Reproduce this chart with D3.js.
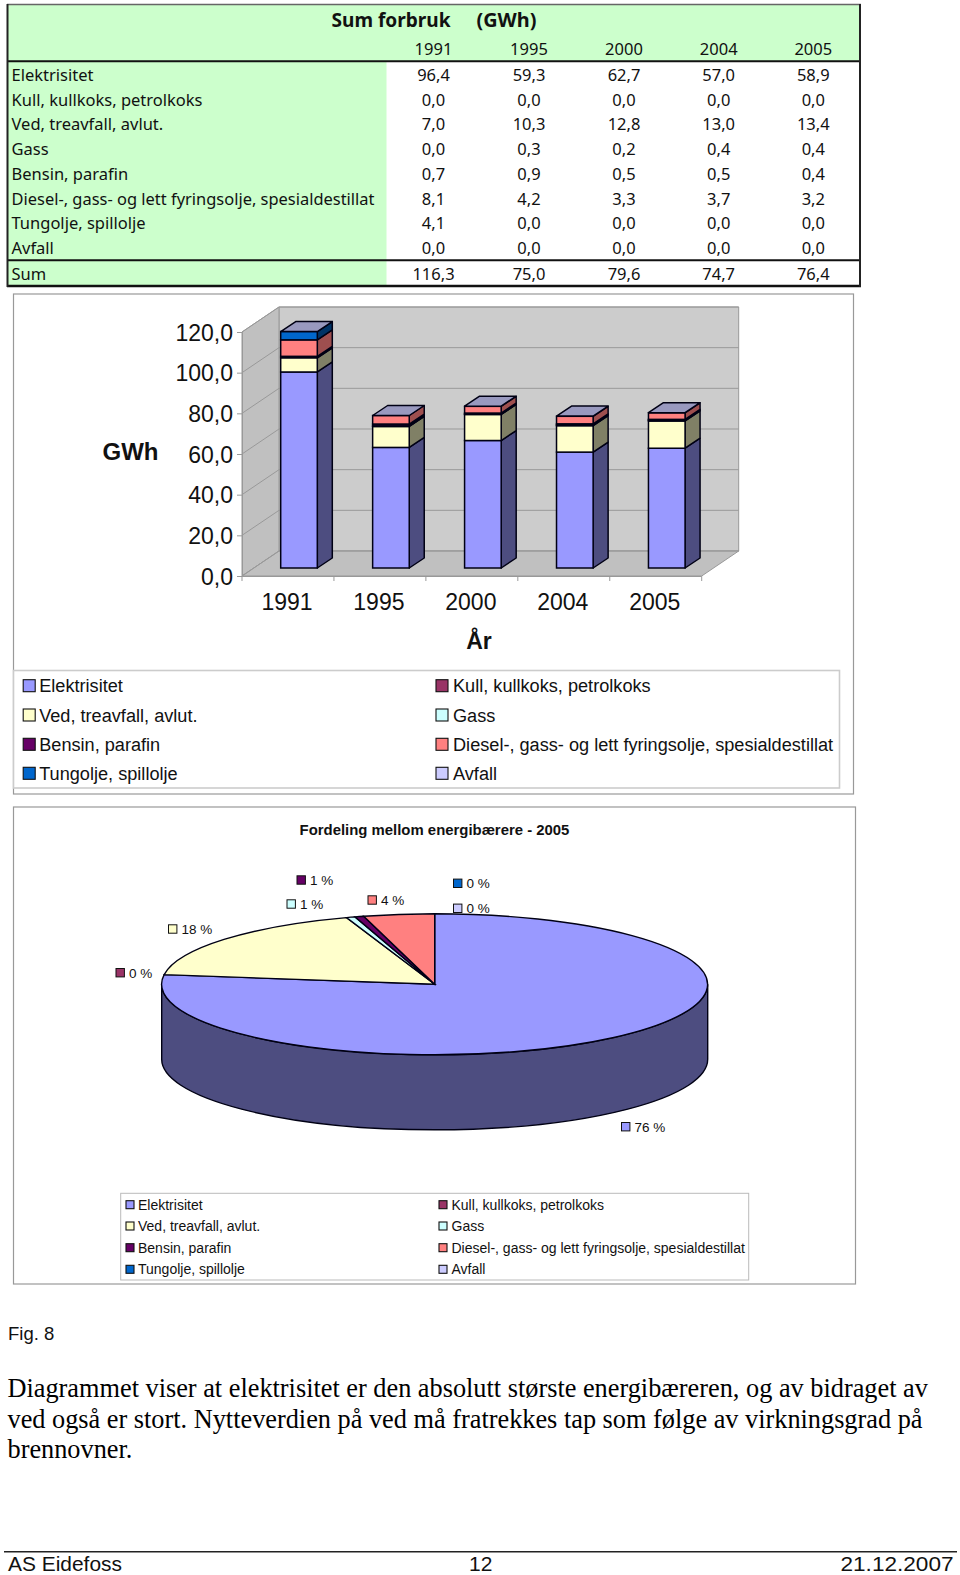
<!DOCTYPE html>
<html><head><meta charset="utf-8">
<script src="https://cdn.jsdelivr.net/npm/d3@7"></script>
<style>html,body{margin:0;padding:0;background:#fff}svg{display:block}</style>
</head><body><svg id="c" width="960" height="1575"></svg>
<script>
const years = ["1991","1995","2000","2004","2005"];
const seriesNames = ["Elektrisitet","Kull, kullkoks, petrolkoks","Ved, treavfall, avlut.","Gass","Bensin, parafin","Diesel-, gass- og lett fyringsolje, spesialdestillat","Tungolje, spillolje","Avfall"];
const elektrisitet = [96.4,59.3,62.7,57.0,58.9];
const kull = [0,0,0,0,0];
const ved = [7.0,10.3,12.8,13.0,13.4];
const gass = [0,0.3,0.2,0.4,0.4];
const bensin = [0.7,0.9,0.5,0.5,0.4];
const diesel = [8.1,4.2,3.3,3.7,3.2];
const tungolje = [4.1,0,0,0,0];
const avfall = [0,0,0,0,0];
const sums = [116.3,75.0,79.6,74.7,76.4];
const colors = ["#9999ff","#993366","#ffffcc","#ccffff","#660066","#ff8080","#0066cc","#ccccff"];
const pieLabels = ["76 %","0 %","18 %","1 %","1 %","4 %","0 %","0 %"];
const axisTicks = [0,20,40,60,80,100,120];
const bodyLines = ["Diagrammet viser at elektrisitet er den absolutt største energibæreren, og av bidraget av","ved også er stort. Nytteverdien på ved må fratrekkes tap som følge av virkningsgrad på","brennovner."];
const allSeries = [elektrisitet,kull,ved,gass,bensin,diesel,tungolje,avfall];

const svg = d3.select("#c");
const SANS = "'Liberation Sans',Arial,sans-serif", SERIF = "'Liberation Serif',serif", HAND = "'Noto Sans',sans-serif";
const comma = v => d3.format(".1f")(v).replace(".",",");
function txt(g,x,y,s,size,o={}){
  const t=g.append("text").attr("x",x).attr("y",y).text(s)
    .attr("font-family",o.font||SANS).attr("font-size",size).attr("fill",o.fill||"#111")
    .attr("text-anchor",o.anchor||"start");
  if(o.bold)t.attr("font-weight","bold");
  if(o.len){t.attr("textLength",o.len).attr("lengthAdjust","spacingAndGlyphs");}
  return t;
}

/* ---------- table ---------- */
const tb = svg.append("g");
const rowY = [75,99.7,124.4,149,174,198.7,223.4,248];
const colX = [433.5,529,624,718.7,813.3];
tb.append("rect").attr("x",8).attr("y",5).attr("width",852).attr("height",56).attr("fill","#ccffcc");
tb.append("rect").attr("x",8).attr("y",61).attr("width",378.5).attr("height",225).attr("fill","#ccffcc");
const rules = [[4.5,1.5],[61.3,2],[260.3,2],[286,2.4]];
tb.selectAll("line.h").data(rules).join("line").attr("class","h").attr("x1",7).attr("x2",861)
  .attr("y1",d=>d[0]).attr("y2",d=>d[0]).attr("stroke",(d,i)=>i?"#111":"#666").attr("stroke-width",d=>d[1]);
tb.append("line").attr("x1",7.5).attr("x2",7.5).attr("y1",4).attr("y2",287).attr("stroke","#222").attr("stroke-width",2);
tb.append("line").attr("x1",860).attr("x2",860).attr("y1",4).attr("y2",287).attr("stroke","#222").attr("stroke-width",2);
txt(tb,331.5,27,"Sum forbruk",20,{font:HAND,bold:true,len:119});
txt(tb,476.5,27,"(GWh)",20,{font:HAND,bold:true,len:60});
years.forEach((y,i)=>txt(tb,colX[i],55,y,16.5,{font:HAND,anchor:"middle"}));
seriesNames.forEach((n,r)=>{
  txt(tb,11.5,rowY[r]+6,n,16.5,{font:HAND,len:r===5?363:null});
  allSeries[r].forEach((v,i)=>txt(tb,colX[i],rowY[r]+6,comma(v),16.5,{font:HAND,anchor:"middle"}));
});
txt(tb,11.5,280,"Sum",16.5,{font:HAND});
sums.forEach((v,i)=>txt(tb,colX[i],280,comma(v),16.5,{font:HAND,anchor:"middle"}));

/* ---------- frames ---------- */
svg.append("rect").attr("x",13.5).attr("y",294).attr("width",840).attr("height",500).attr("fill","#fff").attr("stroke","#999").attr("stroke-width",1.2);
svg.append("rect").attr("x",13.5).attr("y",807).attr("width",842).attr("height",477).attr("fill","#fff").attr("stroke","#999").attr("stroke-width",1.2);

/* ---------- 3D stacked bars ---------- */
const bc = svg.append("g");
const y = d3.scaleLinear().domain([0,120]).range([576,332]);
const x = d3.scaleBand().domain(years).range([242,701.7]);
const wallDx=37, wallDy=-25, barDx=15, barDy=-10, barW=36.6, barOff=38.7, barLift=8;
const pts = a => a.map(p=>p.join(",")).join(" ");
// walls
bc.append("polygon").attr("points",pts([[242+wallDx,y(120)+wallDy],[701.7+wallDx,y(120)+wallDy],[701.7+wallDx,y(0)+wallDy],[242+wallDx,y(0)+wallDy]])).attr("fill","#cccccc").attr("stroke","#999");
bc.append("polygon").attr("points",pts([[242,y(120)],[242+wallDx,y(120)+wallDy],[242+wallDx,y(0)+wallDy],[242,y(0)]])).attr("fill","#c0c0c0").attr("stroke","#999");
bc.append("polygon").attr("points",pts([[242,y(0)],[242+wallDx,y(0)+wallDy],[701.7+wallDx,y(0)+wallDy],[701.7,y(0)]])).attr("fill","#c0c0c0").attr("stroke","#999");
axisTicks.forEach(t=>{
  bc.append("polyline").attr("points",pts([[242,y(t)],[242+wallDx,y(t)+wallDy],[701.7+wallDx,y(t)+wallDy]])).attr("fill","none").attr("stroke","#999").attr("stroke-width",1);
});
// axes
const ay = bc.append("g").attr("transform","translate(242,0)").call(d3.axisLeft(y).tickValues(axisTicks).tickFormat(comma).tickSize(5).tickPadding(4));
const ax = bc.append("g").attr("transform","translate(-1,576)").call(d3.axisBottom(x).tickValues(years).tickSize(0).tickPadding(18));
[ay,ax].forEach(a=>{a.selectAll("text").attr("font-family",SANS).attr("font-size",23).attr("fill","#111");a.select(".domain").attr("stroke","#999");a.selectAll("line").attr("stroke","#999");});
ay.selectAll("text").attr("dy","0.36em");
x.domain().concat("end").forEach((d,i)=>{const px=242+i*x.bandwidth();bc.append("line").attr("x1",px).attr("x2",px).attr("y1",576).attr("y2",581).attr("stroke","#999");});
txt(bc,102.5,459.5,"GWh",24,{bold:true});
txt(bc,479,648.5,"År",23,{bold:true,anchor:"middle"});
// bars
const shade=(c,f)=>{const r=d3.rgb(c);return d3.rgb(r.r*f,r.g*f,r.b*f).formatHex();};
const stack=d3.stack().keys(d3.range(8)).value((d,k)=>allSeries[k][d])(d3.range(5));
const EDGE="#000014", SW=1.5;
years.forEach((yr,i)=>{
  const bx=x(yr)+barOff, g=bc.append("g");
  stack.forEach((lay,k)=>{
    if(allSeries[k][i]===0)return;
    const y0=y(lay[i][0])-barLift, y1=y(lay[i][1])-barLift;
    g.append("polygon").attr("points",pts([[bx+barW,y0],[bx+barW+barDx,y0+barDy],[bx+barW+barDx,y1+barDy],[bx+barW,y1]]))
      .attr("fill",shade(colors[k],k===5?.62:.5)).attr("stroke",EDGE).attr("stroke-width",SW).attr("stroke-linejoin","round");
    g.append("rect").attr("x",bx).attr("y",y1).attr("width",barW).attr("height",y0-y1)
      .attr("fill",colors[k]).attr("stroke",EDGE).attr("stroke-width",SW);
  });
  const topY=y(sums[i])-barLift;
  g.append("polygon").attr("points",pts([[bx,topY],[bx+barDx,topY+barDy],[bx+barW+barDx,topY+barDy],[bx+barW,topY]]))
    .attr("fill",shade(colors[7],.75)).attr("stroke",EDGE).attr("stroke-width",SW).attr("stroke-linejoin","round");
});

/* ---------- legends ---------- */
function legend(box,rows,cols,sw,textOff,size,stroke){
  const g=svg.append("g");
  g.append("rect").attr("x",box[0]).attr("y",box[1]).attr("width",box[2]).attr("height",box[3]).attr("fill","#fff").attr("stroke",stroke.c).attr("stroke-width",stroke.w);
  seriesNames.forEach((n,i)=>{
    const cx=cols[i%2], ry=rows[Math.floor(i/2)];
    g.append("rect").attr("x",cx).attr("y",ry-sw/2).attr("width",sw).attr("height",sw).attr("fill",colors[i]).attr("stroke","#111").attr("stroke-width",1.1);
    txt(g,cx+textOff[i%2],ry+size*.36,n,size);
  });
}
legend([13.5,670.5,826,117.5],[685.7,715,744.3,773.3],[23.2,436],12,[16,17],18.15,{c:"#ccc",w:1.6});
legend([120.7,1193.3,628,86.7],[1204.7,1226,1247.7,1269.3],[126,439],8,[12,12.5],14,{c:"#bbb",w:1});

/* ---------- 3D pie ---------- */
const pc=svg.append("g");
txt(pc,434.5,835,"Fordeling mellom energibærere - 2005",14.9,{bold:true,anchor:"middle"});
const cx=434.7, cy=984.3, rx=273, ry=70.5, dep=75;
const pieVals=allSeries.map(s=>s[4]);
const arcs=d3.pie().sort(null).value(d=>d)(pieVals);
const arc=d3.arc().innerRadius(0).outerRadius(1);
pc.append("path").attr("d",`M${cx-rx},${cy}A${rx},${ry} 0 0 0 ${cx+rx},${cy}V${cy+dep}A${rx},${ry} 0 0 1 ${cx-rx},${cy+dep}Z`)
  .attr("fill",shade(colors[0],.5)).attr("stroke","#000014").attr("stroke-width",1.4);
const pg=pc.append("g").attr("transform",`translate(${cx},${cy}) scale(${rx},${ry})`);
pg.selectAll("path").data(arcs.filter(a=>a.value>0)).join("path").attr("d",arc)
  .attr("fill",d=>colors[d.index]).attr("stroke","#000014").attr("stroke-width",1.4).attr("vector-effect","non-scaling-stroke");
const labelPos=[[621.5,1126.7],[116,972.7],[168.5,929],[287,904],[297,880],[368,900],[453.5,883.3],[453.5,908.3]];
pieLabels.forEach((l,i)=>{
  const [px,py]=labelPos[i];
  pc.append("rect").attr("x",px).attr("y",py-4.2).attr("width",8.4).attr("height",8.4).attr("fill",colors[i]).attr("stroke","#111").attr("stroke-width",1);
  txt(pc,px+13,py+5,l,13.5);
});

/* ---------- footer text ---------- */
txt(svg,8,1340,"Fig. 8",18.5);
[1397,1427.5,1457.5].forEach((by,i)=>txt(svg,7.5,by,bodyLines[i],26.3,{font:SERIF,fill:"#000"}));
svg.append("line").attr("x1",4).attr("x2",957).attr("y1",1551.7).attr("y2",1551.7).attr("stroke","#222").attr("stroke-width",1.6);
txt(svg,8,1570.5,"AS Eidefoss",21,{len:114});
txt(svg,480.7,1570.5,"12",21,{anchor:"middle"});
txt(svg,953.5,1570.5,"21.12.2007",21,{anchor:"end",len:113});
</script></body></html>
